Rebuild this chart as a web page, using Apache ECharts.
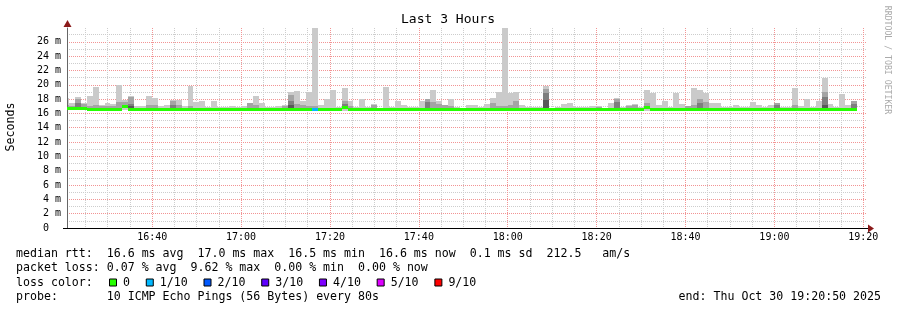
<!DOCTYPE html>
<html><head><meta charset="utf-8">
<script src="https://cdn.jsdelivr.net/npm/echarts@6/dist/echarts.min.js"></script>
<style>html,body{margin:0;padding:0;background:#fff}#c{width:897px;height:310px}</style>
</head><body><div id="c"></div><script>
// ---------- data (times in minutes of the day) ----------
const viewStart = 16*60 + 20 + 50/60;   // 16:20:50
const viewEnd   = 19*60 + 20 + 50/60;   // 19:20:50
const firstStepStart = 16*60 + 19 + 57/60;
const stepMinutes = 80/60;               // probe every 80 s

const xTickLabels = ['16:40','17:00','17:20','17:40','18:00','18:20','18:40','19:00','19:20'];
const yTickValues = [0,2,4,6,8,10,12,14,16,18,20,22,24,26];

const rttMedian = [
 16.75,16.75,16.75,16.75,16.68,16.68,16.68,16.68,16.68,16.68,
 17.0,16.68,16.68,16.68,16.68,16.68,16.68,16.68,16.68,16.68,
 16.68,16.68,16.68,16.68,16.68,16.68,16.68,16.68,16.68,16.68,
 16.68,16.68,16.68,16.68,16.68,16.68,16.68,16.68,16.68,16.68,
 16.68,16.68,16.68,16.55,16.68,16.68,16.68,16.85,16.68,16.68,
 16.68,16.68,16.68,16.55,16.68,16.68,16.68,16.68,16.68,16.68,
 16.68,16.68,16.68,16.68,16.68,16.68,16.68,16.55,16.68,16.68,
 16.68,16.68,16.68,16.68,16.68,16.68,16.68,16.68,16.55,16.68,
 16.68,16.68,16.55,16.68,16.68,16.68,16.68,16.68,16.68,16.68,
 16.68,16.55,16.68,16.68,16.68,16.68,16.68,16.68,16.85,16.68,
 16.68,16.68,16.68,16.68,16.68,16.68,16.68,16.68,16.55,16.68,
 16.68,16.68,16.68,16.68,16.55,16.68,16.68,16.68,16.68,16.68,
 16.68,16.55,16.68,16.68,16.68,16.55,16.55,16.68,16.68,16.68,
 16.68,16.68,16.68,16.68];
const rttMin = [
 16.45,16.45,16.45,16.45,16.3,16.3,16.45,16.45,16.45,16.3,
 16.45,16.45,16.45,16.45,16.3,16.45,16.45,16.45,16.45,16.45,
 16.45,16.3,16.45,16.45,16.45,16.45,16.45,16.45,16.3,16.45,
 16.45,16.45,16.45,16.3,16.3,16.45,16.45,16.45,16.45,16.45,
 16.45,16.45,16.3,16.3,16.45,16.45,16.45,16.3,16.3,16.45,
 16.45,16.3,16.45,16.45,16.45,16.45,16.3,16.45,16.45,16.45,
 16.45,16.45,16.3,16.45,16.3,16.3,16.45,16.45,16.45,16.45,
 16.45,16.45,16.45,16.3,16.45,16.3,16.3,16.45,16.45,16.45,
 16.45,16.45,16.45,16.45,16.3,16.45,16.45,16.45,16.45,16.3,
 16.45,16.45,16.45,16.45,16.45,16.45,16.45,16.45,16.3,16.45,
 16.3,16.3,16.45,16.3,16.45,16.45,16.45,16.3,16.45,16.45,
 16.45,16.45,16.45,16.45,16.45,16.45,16.45,16.3,16.45,16.3,
 16.45,16.45,16.45,16.45,16.45,16.45,16.45,16.3,16.45,16.45,
 16.3,16.45,16.45,16.45];
const rttMax = [
 18.2,17.4,18.3,17.5,18.5,19.7,17.2,17.4,17.3,20.0,
 17.9,18.4,17.0,17.0,18.4,18.1,17.1,17.2,17.9,17.9,
 17.1,19.8,17.6,17.8,16.9,17.8,16.9,16.9,17.1,16.9,
 17.0,17.5,18.4,17.4,16.9,16.9,17.0,17.2,19.0,19.1,
 17.8,19.0,27.9,17.2,18.0,19.3,16.9,19.5,17.8,16.9,
 18.0,16.9,17.3,16.8,19.7,16.9,17.8,17.2,16.9,16.9,
 17.7,18.0,19.3,17.8,17.2,18.0,16.9,16.8,17.2,17.2,
 16.9,17.3,18.1,19.0,27.9,18.8,19.0,17.2,16.9,16.9,
 16.9,19.8,16.8,16.9,17.3,17.4,16.9,16.9,16.9,17.0,
 17.0,16.8,17.5,18.1,16.9,17.2,17.3,16.9,19.3,18.8,
 17.2,17.8,16.9,18.9,17.3,17.1,19.6,19.3,18.9,17.4,
 17.4,16.9,16.9,17.2,16.9,16.9,17.6,17.2,16.9,17.2,
 17.4,16.9,16.9,19.6,17.1,18.0,16.9,17.8,21.0,17.3,
 16.9,18.7,17.2,17.8];
// 9th of 10 pings (second highest)
const rttP9 = [
 17.2,17.1,18.0,17.3,17.1,17.2,17.0,17.1,17.0,17.6,
 17.6,18.3,16.68,16.68,17.2,17.2,16.68,16.68,17.7,17.2,
 16.68,17.1,16.68,16.68,16.68,16.68,16.68,16.68,16.68,16.68,
 16.68,17.4,17.2,16.68,16.68,16.68,16.68,17.1,18.6,17.3,
 17.2,17.0,17.0,16.68,16.68,16.68,16.68,17.8,17.1,16.68,
 16.68,16.68,17.2,16.68,16.68,16.68,16.68,16.68,16.68,16.68,
 16.68,18.0,17.6,17.3,17.2,17.0,16.68,16.68,16.68,16.68,
 16.68,16.68,17.5,17.1,17.0,17.2,17.7,16.68,16.68,16.68,
 16.68,19.4,16.68,16.68,16.68,16.68,16.68,16.68,16.68,16.68,
 16.95,16.68,16.68,18.0,16.68,17.1,17.2,16.68,17.5,16.68,
 16.68,16.68,16.68,16.68,16.68,17.1,17.2,18.0,17.6,16.68,
 16.68,16.68,16.68,16.68,16.68,16.68,16.68,16.68,16.68,16.68,
 17.4,16.68,16.68,17.2,16.68,16.68,16.68,16.68,19.0,16.68,
 16.68,16.68,16.68,17.8];
// 8th of 10 pings
const rttP8 = [
 16.68,16.68,17.4,16.68,16.68,16.68,16.68,16.68,16.68,16.68,
 17.2,17.3,16.68,16.68,16.68,16.68,16.68,16.68,17.2,16.68,
 16.68,16.68,16.68,16.68,16.68,16.68,16.68,16.68,16.68,16.68,
 16.68,16.68,16.68,16.68,16.68,16.68,16.68,16.68,17.8,16.68,
 16.68,16.68,16.68,16.68,16.68,16.68,16.68,17.3,16.68,16.68,
 16.68,16.68,16.68,16.68,16.68,16.68,16.68,16.68,16.68,16.68,
 16.68,17.6,16.68,16.68,16.68,16.68,16.68,16.68,16.68,16.68,
 16.68,16.68,16.68,16.68,16.68,16.68,16.68,16.68,16.68,16.68,
 16.68,18.9,16.68,16.68,16.68,16.68,16.68,16.68,16.68,16.68,
 16.68,16.68,16.68,17.6,16.68,16.68,16.68,16.68,16.68,16.68,
 16.68,16.68,16.68,16.68,16.68,16.68,16.68,17.4,16.68,16.68,
 16.68,16.68,16.68,16.68,16.68,16.68,16.68,16.68,16.68,16.68,
 17.2,16.68,16.68,16.68,16.68,16.68,16.68,16.68,18.3,16.68,
 16.68,16.68,16.68,17.3];
// 7th of 10 pings
const rttP7 = [
 16.68,16.68,16.68,16.68,16.68,16.68,16.68,16.68,16.68,16.68,
 16.68,17.0,16.68,16.68,16.68,16.68,16.68,16.68,16.68,16.68,
 16.68,16.68,16.68,16.68,16.68,16.68,16.68,16.68,16.68,16.68,
 16.68,16.68,16.68,16.68,16.68,16.68,16.68,16.68,17.2,16.68,
 16.68,16.68,16.68,16.68,16.68,16.68,16.68,16.68,16.68,16.68,
 16.68,16.68,16.68,16.68,16.68,16.68,16.68,16.68,16.68,16.68,
 16.68,16.68,16.68,16.68,16.68,16.68,16.68,16.68,16.68,16.68,
 16.68,16.68,16.68,16.68,16.68,16.68,16.68,16.68,16.68,16.68,
 16.68,17.9,16.68,16.68,16.68,16.68,16.68,16.68,16.68,16.68,
 16.68,16.68,16.68,16.68,16.68,16.68,16.68,16.68,16.68,16.68,
 16.68,16.68,16.68,16.68,16.68,16.68,16.68,16.68,16.68,16.68,
 16.68,16.68,16.68,16.68,16.68,16.68,16.68,16.68,16.68,16.68,
 16.68,16.68,16.68,16.68,16.68,16.68,16.68,16.68,17.2,16.68,
 16.68,16.68,16.68,16.68];
// lost pings (of 10) per step
const lossCount = [
 0,0,0,0,0,0,0,0,0,0, 0,0,0,0,0,0,0,0,0,0, 0,0,0,0,0,0,0,0,0,0,
 0,0,0,0,0,0,0,0,0,0, 0,0,1,0,0,0,0,0,0,0, 0,0,0,0,0,0,0,0,0,0,
 0,0,0,0,0,0,0,0,0,0, 0,0,0,0,0,0,0,0,0,0, 0,0,0,0,0,0,0,0,0,0,
 0,0,0,0,0,0,0,0,0,0, 0,0,0,0,0,0,0,0,0,0, 0,0,0,0,0,0,0,0,0,0,
 0,0,0,0,0,0,0,0,0,0, 0,0,0,0];

const lossLegendLabels = ['0','1/10','2/10','3/10','4/10','5/10','9/10'];
const lossLegendColors = ['#26ff00','#00b8ff','#0059ff','#5e00ff','#7e00ff','#dd00ff','#ff0000'];

const legendLines = [
 'median rtt:  16.6 ms avg  17.0 ms max  16.5 ms min  16.6 ms now  0.1 ms sd  212.5   am/s',
 'packet loss: 0.07 % avg  9.62 % max  0.00 % min  0.00 % now',
 'loss color:',
 'probe:       10 ICMP Echo Pings (56 Bytes) every 80s'
];
const endText = 'end: Thu Oct 30 19:20:50 2025';
const titleText = 'Last 3 Hours';
const yAxisTitle = 'Seconds';
const watermark = 'RRDTOOL / TOBI OETIKER';

// ---------- build ----------
const Y_MAX = 27.93;
const MONO = "'DejaVu Sans Mono', 'Liberation Mono', monospace";
const toMin = s => { const [h,m] = s.split(':').map(Number); return h*60+m; };
const xTickValues = xTickLabels.map(toMin);
const pad = n => (n<10?'0':'')+n;

// plot geometry
const PL = 67, PT = 28, PW = 800, PH = 200;
const pxPerMin = PW / (viewEnd - viewStart);
const pxPerMs = PH / Y_MAX;
const xPix = t => PL + (t - viewStart) * pxPerMin;
const yPix = v => PT + PH - v * pxPerMs;

function stepData(lows, highs) {
  return highs.map((h,i) => {
    const t0 = firstStepStart + i*stepMinutes;
    return [t0, t0 + stepMinutes, lows[i], h];
  });
}
function smokeSeries(lows, highs, color, z) {
  return {
    type:'custom', z, clip:true, silent:true, xAxisIndex:0, yAxisIndex:0,
    encode:{x:[0,1], y:[2,3]},
    data: stepData(lows, highs),
    renderItem(params, api) {
      const lo = api.value(2), hi = api.value(3);
      if (!(hi > lo)) return null;
      const a = api.coord([api.value(0), lo]);
      const b = api.coord([api.value(1), hi]);
      const x0 = Math.round(a[0]), x1 = Math.round(b[0]);
      const y0 = Math.round(b[1]), y1 = Math.round(a[1]);
      const cs = params.coordSys;
      const cx0 = Math.max(x0, Math.round(cs.x)), cx1 = Math.min(x1, Math.round(cs.x+cs.width));
      if (cx1 <= cx0) return null;
      return {type:'rect', shape:{x:cx0, y:y0, width:cx1-cx0, height:Math.max(1,y1-y0)}, style:{fill:color}};
    }
  };
}
function lossIdx(n){ return n>=6 ? 6 : n; }
const bandSeries = {
  type:'custom', z:10, clip:true, silent:true, xAxisIndex:0, yAxisIndex:0,
  encode:{x:[0,1], y:2},
  data: rttMedian.map((m,i) => { const t0 = firstStepStart + i*stepMinutes; return [t0, t0+stepMinutes, m, lossCount[i]]; }),
  renderItem(params, api) {
    const a = api.coord([api.value(0), api.value(2)]);
    const b = api.coord([api.value(1), api.value(2)]);
    const cs = params.coordSys;
    const x0 = Math.max(Math.round(a[0]), Math.round(cs.x));
    const x1 = Math.min(Math.round(b[0]), Math.round(cs.x+cs.width));
    if (x1 <= x0) return null;
    const yc = Math.round(a[1]);
    return {type:'rect', shape:{x:x0, y:yc-1, width:x1-x0, height:3},
      style:{fill: lossLegendColors[lossIdx(api.value(3))]}};
  }
};

// ---------- grid-line overlay axes (dotted), non-overlapping ----------
const GRAY = '#cdcdcd', RED = '#f29494';
const gridLine = c => ({show:true, lineStyle:{color:c, type:[1,1], width:1}});
const lineAxis = (gi, max, interval, color) => ({gridIndex:gi, type:'value', min:0, max, interval,
  axisLine:{show:false}, axisTick:{show:false}, axisLabel:{show:false}, splitLine:gridLine(color)});
const hiddenAxis = gi => ({gridIndex:gi, type:'value', min:0, max:1, show:false});

const grids = [{left:PL, top:PT, width:PW, height:PH}];
const xAxes = [{gridIndex:0, type:'value', min:viewStart, max:viewEnd, z:5,
    axisLine:{show:true, lineStyle:{color:'#000', width:1}}, axisTick:{show:false}, splitLine:{show:false},
    axisLabel:{customValues:xTickValues, fontFamily:MONO, fontSize:10, color:'#000', margin:4,
      formatter:v => { const h = Math.floor(v/60+1e-6), m = Math.round(v - h*60); return pad(h)+':'+pad(m); }}}];
const yAxes = [{gridIndex:0, type:'value', min:0, max:Y_MAX, interval:2, z:5,
    axisLine:{show:true, lineStyle:{color:'#666'}}, axisTick:{show:false}, splitLine:{show:false},
    axisLabel:{fontFamily:MONO, fontSize:10, color:'#000', margin:6,
      formatter:v => { const r = Math.round(v); if (Math.abs(v-r)>1e-6 || r%2 || !yTickValues.includes(r)) return ''; return r===0 ? '0  ' : r+' m'; }}}];

// vertical minor lines: three interleaved 20-minute combs starting 16:25, 16:30, 16:35 (offset axes start at 0)
[985, 990, 995].forEach(start => {
  const gi = grids.length;
  grids.push({left:xPix(start), top:PT, width:xPix(start+160)-xPix(start), height:PH});
  xAxes.push(lineAxis(gi, 160, 20, GRAY)); yAxes.push(hiddenAxis(gi));
});
// horizontal minor lines at odd ms (offset axis: 0 -> 1 ms)
{ const gi = grids.length;
  grids.push({left:PL, top:yPix(27), width:PW, height:yPix(1)-yPix(27)});
  xAxes.push(hiddenAxis(gi)); yAxes.push(lineAxis(gi, 26, 2, GRAY)); }
// vertical major lines every 20 minutes from 16:40
{ const gi = grids.length;
  grids.push({left:xPix(1000), top:PT, width:xPix(1160)-xPix(1000), height:PH});
  xAxes.push(lineAxis(gi, 160, 20, RED)); yAxes.push(hiddenAxis(gi)); }
// horizontal major lines every 2 ms
{ const gi = grids.length;
  grids.push({left:PL, top:yPix(26), width:PW, height:yPix(0)-yPix(26)});
  xAxes.push(hiddenAxis(gi)); yAxes.push(lineAxis(gi, 26, 2, RED)); }

// ---------- graphics (texts, legend) ----------
const graphics = [];
function txt(x, y, text, size, o) {
  o = o || {};
  graphics.push({type:'text', x, y, rotation:o.rot||0, silent:true, z:100,
    style:{text, font: size+'px '+MONO, fill:o.fill||'#000',
      textAlign:o.align||'left', textVerticalAlign:'middle', align:o.align||'left', verticalAlign:'middle'}});
}
txt(448, 20, titleText, 13, {align:'center'});
txt(11, 127, yAxisTitle, 11.6, {align:'center', rot:Math.PI/2});
txt(887, 60, watermark, 8.2, {align:'center', rot:-Math.PI/2, fill:'#aaaaaa'});
const rowY = [254.3, 268.3, 282.5, 296.6];
legendLines.forEach((s,i) => txt(16, rowY[i], s, 11.6));
let sx = 109;
lossLegendLabels.forEach((lab,i) => {
  graphics.push({type:'rect', silent:true, z:100, shape:{x:sx+0.5, y:rowY[2]-3.5, width:7, height:7},
    style:{fill:lossLegendColors[i], stroke:'#000', lineWidth:1}});
  txt(sx+14, rowY[2], lab, 11.6);
  sx = sx + 14 + lab.length*6.98 + 15.8;
});
txt(881, rowY[3], endText, 11.6, {align:'right'});
// axis arrows
graphics.push({type:'polygon', silent:true, z:100, shape:{points:[[868,224.5],[874,228.5],[868,232.5]]}, style:{fill:'#8b1a1a'}});
graphics.push({type:'polygon', silent:true, z:100, shape:{points:[[63.5,27],[67.5,20],[71.5,27]]}, style:{fill:'#8b1a1a'}});
graphics.push({type:'line', silent:true, z:100, shape:{x1:63, y1:228.5, x2:868, y2:228.5}, style:{stroke:'#000', lineWidth:1}});

const chart = echarts.init(document.getElementById('c'), null, {renderer:'canvas', width:897, height:310});
chart.setOption({
  animation:false,
  backgroundColor:'#ffffff',
  grid: grids,
  xAxis: xAxes,
  yAxis: yAxes,
  series:[
    smokeSeries(rttMin, rttMax, '#cacaca', 3),
    smokeSeries(rttMedian, rttP9, '#a4a4a4', 4),
    smokeSeries(rttMedian, rttP8, '#7e7e7e', 5),
    smokeSeries(rttMedian, rttP7, '#585858', 6),
    bandSeries
  ],
  graphic: graphics
});
</script></body></html>
